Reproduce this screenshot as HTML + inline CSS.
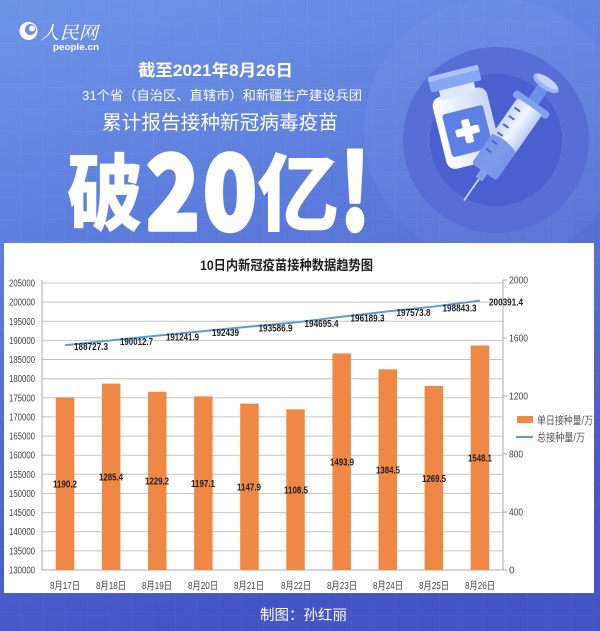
<!DOCTYPE html>
<html><head><meta charset="utf-8">
<style>
html,body{margin:0;padding:0;background:#5b73d8;}
svg{display:block;}
.cjk{font-family:"Liberation Sans","Noto Sans CJK SC",sans-serif;}
</style></head>
<body>
<svg width="600" height="631" viewBox="0 0 600 631" xmlns="http://www.w3.org/2000/svg">
<defs>
<linearGradient id="bg" x1="0" y1="0" x2="0.25" y2="1">
<stop offset="0" stop-color="#6e94e7"/>
<stop offset="0.38" stop-color="#5d7ddd"/>
<stop offset="1" stop-color="#4655c6"/>
</linearGradient>
<pattern id="grid" width="22" height="22" patternUnits="userSpaceOnUse">
<path d="M22 0V22M0 22H22" stroke="rgba(255,255,255,0.06)" stroke-width="1" fill="none"/>
</pattern>
<linearGradient id="vial" x1="0" y1="0" x2="1" y2="0">
<stop offset="0" stop-color="#ffffff"/><stop offset="1" stop-color="#c9d6f7"/>
</linearGradient>
<linearGradient id="barrel" x1="0" y1="0" x2="1" y2="0">
<stop offset="0" stop-color="#c7d6fb"/><stop offset="0.5" stop-color="#f2f6ff"/><stop offset="1" stop-color="#b9cbf7"/>
</linearGradient>
</defs>
<rect width="600" height="631" fill="url(#bg)"/>
<rect width="600" height="631" fill="url(#grid)"/>

<!-- circles -->
<circle cx="496" cy="130" r="132" fill="rgba(255,255,255,0.04)"/>
<circle cx="496" cy="140" r="93" fill="#566ed6"/>
<circle cx="496" cy="140" r="66" fill="#4a60cf"/>

<!-- vial -->
<g transform="rotate(-14 462 117)">
<rect x="436" y="92" width="56" height="74" rx="9" fill="url(#vial)"/>
<rect x="446" y="84" width="36" height="12" fill="#dfe7fb"/>
<rect x="438" y="70" width="52" height="16" rx="2" fill="#86a8f2"/>
<rect x="438" y="70" width="52" height="5" rx="2" fill="#a9c2f7"/>
<rect x="443" y="110" width="42" height="44" rx="3" fill="#5c80e3"/>
<rect x="460" y="120" width="8" height="24" rx="2" fill="#ffffff"/>
<rect x="452" y="128" width="24" height="8" rx="2" fill="#ffffff"/>
</g>

<!-- syringe -->
<g transform="translate(507 139) rotate(35)">
<line x1="0" y1="48" x2="0" y2="75" stroke="#d5e0ff" stroke-width="1.6"/>
<rect x="-4" y="38" width="8" height="11" fill="#7ea2ee"/>
<rect x="-6" y="-66" width="12" height="26" fill="#6b91ea"/>
<ellipse cx="0" cy="-68" rx="15" ry="6" fill="#9ab8f5"/>
<ellipse cx="0" cy="-70" rx="13" ry="4" fill="#c4d5fb"/>
<rect x="-21" y="-46" width="42" height="8" rx="3" fill="#7ea2ee"/>
<rect x="-15" y="-40" width="30" height="80" rx="3" fill="url(#barrel)"/>
<path d="M-15 4 Q0 0 15 6 V37 Q15 40 12 40 H-12 Q-15 40 -15 37 Z" fill="#6a8be6" opacity="0.85"/>
<g stroke="#4b66d4" stroke-width="2" stroke-linecap="round">
<line x1="-11" y1="-30" x2="-6" y2="-30"/><line x1="-11" y1="-20" x2="-6" y2="-20"/>
<line x1="-11" y1="-10" x2="-6" y2="-10"/><line x1="-11" y1="0" x2="-6" y2="0"/>
<line x1="-11" y1="10" x2="-6" y2="10"/><line x1="-11" y1="20" x2="-6" y2="20"/>
</g>
</g>

<!-- logo -->
<circle cx="28.5" cy="31" r="9" fill="#ffffff"/>
<circle cx="30.5" cy="29.5" r="5.5" fill="#6a8fe4"/>
<circle cx="32" cy="28.5" r="3" fill="#ffffff"/>
<text x="40" y="39" font-family="'Noto Serif CJK SC',serif" font-size="18" font-style="italic" fill="#ffffff" textLength="58" lengthAdjust="spacingAndGlyphs">人民网</text>
<text x="53" y="50" font-family="'Liberation Sans',sans-serif" font-size="9" font-weight="bold" fill="#ffffff" textLength="46" lengthAdjust="spacingAndGlyphs">people.cn</text>

<!-- headings -->
<text class="cjk" x="138" y="76" font-size="16.5" font-weight="bold" fill="#ffffff" textLength="155" lengthAdjust="spacingAndGlyphs">截至2021年8月26日</text>
<text class="cjk" x="82" y="100" font-size="13" fill="#ffffff" textLength="280" lengthAdjust="spacingAndGlyphs">31个省（自治区、直辖市）和新疆生产建设兵团</text>
<text class="cjk" x="102" y="129" font-size="19.5" fill="#ffffff" textLength="236" lengthAdjust="spacingAndGlyphs">累计报告接种新冠病毒疫苗</text>

<g font-family="'Noto Sans CJK SC',sans-serif" font-weight="900" fill="#ffffff">
<text x="67" y="224" font-size="84" textLength="76" lengthAdjust="spacingAndGlyphs">破</text>
<text x="146" y="230" font-size="104" textLength="54" lengthAdjust="spacingAndGlyphs" stroke="#ffffff" stroke-width="3.5" stroke-linejoin="round">2</text>
<text x="203" y="230" font-size="104" textLength="54" lengthAdjust="spacingAndGlyphs" stroke="#ffffff" stroke-width="3.5" stroke-linejoin="round">0</text>
<text x="257" y="224" font-size="84" textLength="82" lengthAdjust="spacingAndGlyphs">亿</text>
<text x="340" y="230" font-size="104" textLength="30" lengthAdjust="spacingAndGlyphs" stroke="#ffffff" stroke-width="3.5" stroke-linejoin="round">!</text>
</g>

<!-- chart panel -->
<rect x="4" y="243" width="590" height="350" fill="#ffffff"/>
<text class="cjk" x="200" y="270" font-size="13.5" font-weight="bold" fill="#1f1f1f" textLength="173" lengthAdjust="spacingAndGlyphs">10日内新冠疫苗接种数据趋势图</text>

<!-- gridlines -->
<g stroke="#c4c4c4" stroke-width="1">
<line x1="42" y1="283" x2="503" y2="283"/>
<line x1="42" y1="302.1" x2="503" y2="302.1"/>
<line x1="42" y1="321.3" x2="503" y2="321.3"/>
<line x1="42" y1="340.4" x2="503" y2="340.4"/>
<line x1="42" y1="359.5" x2="503" y2="359.5"/>
<line x1="42" y1="378.7" x2="503" y2="378.7"/>
<line x1="42" y1="397.8" x2="503" y2="397.8"/>
<line x1="42" y1="416.9" x2="503" y2="416.9"/>
<line x1="42" y1="436.1" x2="503" y2="436.1"/>
<line x1="42" y1="455.2" x2="503" y2="455.2"/>
<line x1="42" y1="474.3" x2="503" y2="474.3"/>
<line x1="42" y1="493.5" x2="503" y2="493.5"/>
<line x1="42" y1="512.6" x2="503" y2="512.6"/>
<line x1="42" y1="531.7" x2="503" y2="531.7"/>
<line x1="42" y1="550.9" x2="503" y2="550.9"/>
</g>
<g stroke="#a8a8a8" stroke-width="1">
<line x1="42" y1="570" x2="503" y2="570"/>
<line x1="42" y1="280" x2="42" y2="570"/>
<line x1="503" y1="280" x2="503" y2="570"/>
<line x1="503" y1="280" x2="507" y2="280"/>
<line x1="503" y1="338" x2="507" y2="338"/>
<line x1="503" y1="396" x2="507" y2="396"/>
<line x1="503" y1="454" x2="507" y2="454"/>
<line x1="503" y1="512" x2="507" y2="512"/>
<line x1="503" y1="570" x2="507" y2="570"/>
</g>

<!-- left axis labels -->
<g font-family="'Liberation Sans',sans-serif" font-size="10" fill="#404040" text-anchor="end">
<text x="35" y="286.5" textLength="26" lengthAdjust="spacingAndGlyphs">205000</text>
<text x="35" y="305.6" textLength="26" lengthAdjust="spacingAndGlyphs">200000</text>
<text x="35" y="324.8" textLength="26" lengthAdjust="spacingAndGlyphs">195000</text>
<text x="35" y="343.9" textLength="26" lengthAdjust="spacingAndGlyphs">190000</text>
<text x="35" y="363" textLength="26" lengthAdjust="spacingAndGlyphs">185000</text>
<text x="35" y="382.2" textLength="26" lengthAdjust="spacingAndGlyphs">180000</text>
<text x="35" y="401.3" textLength="26" lengthAdjust="spacingAndGlyphs">175000</text>
<text x="35" y="420.4" textLength="26" lengthAdjust="spacingAndGlyphs">170000</text>
<text x="35" y="439.6" textLength="26" lengthAdjust="spacingAndGlyphs">165000</text>
<text x="35" y="458.7" textLength="26" lengthAdjust="spacingAndGlyphs">160000</text>
<text x="35" y="477.8" textLength="26" lengthAdjust="spacingAndGlyphs">155000</text>
<text x="35" y="497" textLength="26" lengthAdjust="spacingAndGlyphs">150000</text>
<text x="35" y="516.1" textLength="26" lengthAdjust="spacingAndGlyphs">145000</text>
<text x="35" y="535.2" textLength="26" lengthAdjust="spacingAndGlyphs">140000</text>
<text x="35" y="554.4" textLength="26" lengthAdjust="spacingAndGlyphs">135000</text>
<text x="35" y="573.5" textLength="26" lengthAdjust="spacingAndGlyphs">130000</text>
</g>
<!-- right axis labels -->
<g font-family="'Liberation Sans',sans-serif" font-size="10" fill="#404040">
<text x="509" y="283.5" textLength="19" lengthAdjust="spacingAndGlyphs">2000</text>
<text x="509" y="341.5" textLength="19" lengthAdjust="spacingAndGlyphs">1600</text>
<text x="509" y="399.5" textLength="19" lengthAdjust="spacingAndGlyphs">1200</text>
<text x="509" y="457.5" textLength="14" lengthAdjust="spacingAndGlyphs">800</text>
<text x="509" y="515.5" textLength="14" lengthAdjust="spacingAndGlyphs">400</text>
<text x="509" y="573.5">0</text>
</g>

<!-- bars -->
<g fill="#ef8844">
<rect x="55.8" y="397.4" width="18.5" height="172.6"/>
<rect x="101.9" y="383.6" width="18.5" height="186.4"/>
<rect x="148" y="391.8" width="18.5" height="178.2"/>
<rect x="194.1" y="396.4" width="18.5" height="173.6"/>
<rect x="240.2" y="403.6" width="18.5" height="166.4"/>
<rect x="286.3" y="409.3" width="18.5" height="160.7"/>
<rect x="332.4" y="353.4" width="18.5" height="216.6"/>
<rect x="378.5" y="369.3" width="18.5" height="200.7"/>
<rect x="424.6" y="385.9" width="18.5" height="184.1"/>
<rect x="470.7" y="345.5" width="18.5" height="224.5"/>
</g>

<!-- line -->
<polyline fill="none" stroke="#5b9bd5" stroke-width="2" points="65.05,345.27 111.15,340.35 157.25,335.65 203.35,331.07 249.45,326.67 295.55,322.43 341.65,316.71 387.75,311.42 433.85,306.56 479.95,300.64"/>

<!-- bar labels -->
<g font-family="'Liberation Sans',sans-serif" font-size="10.5" font-weight="bold" fill="#1e1e1e" text-anchor="middle">
<text x="65" y="487.5" textLength="24" lengthAdjust="spacingAndGlyphs">1190.2</text>
<text x="111" y="480.6" textLength="24" lengthAdjust="spacingAndGlyphs">1285.4</text>
<text x="157" y="484.7" textLength="24" lengthAdjust="spacingAndGlyphs">1229.2</text>
<text x="203" y="487" textLength="24" lengthAdjust="spacingAndGlyphs">1197.1</text>
<text x="249" y="490.6" textLength="24" lengthAdjust="spacingAndGlyphs">1147.9</text>
<text x="296" y="493.4" textLength="24" lengthAdjust="spacingAndGlyphs">1108.5</text>
<text x="342" y="465.5" textLength="24" lengthAdjust="spacingAndGlyphs">1493.9</text>
<text x="388" y="473.4" textLength="24" lengthAdjust="spacingAndGlyphs">1384.5</text>
<text x="434" y="481.8" textLength="24" lengthAdjust="spacingAndGlyphs">1269.5</text>
<text x="480" y="461.6" textLength="24" lengthAdjust="spacingAndGlyphs">1548.1</text>
</g>
<!-- line labels -->
<g font-family="'Liberation Sans',sans-serif" font-size="10.5" font-weight="bold" fill="#1e1e1e">
<text x="74" y="350" textLength="34" lengthAdjust="spacingAndGlyphs">188727.3</text>
<text x="120" y="345" textLength="33" lengthAdjust="spacingAndGlyphs">190012.7</text>
<text x="166" y="340.5" textLength="33" lengthAdjust="spacingAndGlyphs">191241.9</text>
<text x="212" y="336" textLength="27" lengthAdjust="spacingAndGlyphs">192439</text>
<text x="258.5" y="331.5" textLength="34" lengthAdjust="spacingAndGlyphs">193586.9</text>
<text x="304.5" y="327" textLength="34" lengthAdjust="spacingAndGlyphs">194695.4</text>
<text x="350.5" y="321.5" textLength="34" lengthAdjust="spacingAndGlyphs">196189.3</text>
<text x="396.5" y="316" textLength="34" lengthAdjust="spacingAndGlyphs">197573.8</text>
<text x="442.5" y="311.5" textLength="34" lengthAdjust="spacingAndGlyphs">198843.3</text>
<text x="489" y="305.5" textLength="34" lengthAdjust="spacingAndGlyphs">200391.4</text>
</g>

<!-- x labels -->
<g class="cjk" font-size="10.5" fill="#404040" text-anchor="middle">
<text x="65" y="589" textLength="30" lengthAdjust="spacingAndGlyphs">8月17日</text>
<text x="111" y="589" textLength="30" lengthAdjust="spacingAndGlyphs">8月18日</text>
<text x="157" y="589" textLength="30" lengthAdjust="spacingAndGlyphs">8月19日</text>
<text x="203" y="589" textLength="30" lengthAdjust="spacingAndGlyphs">8月20日</text>
<text x="249" y="589" textLength="30" lengthAdjust="spacingAndGlyphs">8月21日</text>
<text x="296" y="589" textLength="30" lengthAdjust="spacingAndGlyphs">8月22日</text>
<text x="342" y="589" textLength="30" lengthAdjust="spacingAndGlyphs">8月23日</text>
<text x="388" y="589" textLength="30" lengthAdjust="spacingAndGlyphs">8月24日</text>
<text x="434" y="589" textLength="30" lengthAdjust="spacingAndGlyphs">8月25日</text>
<text x="480" y="589" textLength="30" lengthAdjust="spacingAndGlyphs">8月26日</text>
</g>

<!-- legend -->
<rect x="517" y="416" width="16" height="7" fill="#ef8844"/>
<text class="cjk" x="537" y="424" font-size="11" fill="#555555" textLength="56" lengthAdjust="spacingAndGlyphs">单日接种量/万</text>
<line x1="516" y1="437" x2="533" y2="437" stroke="#5b9bd5" stroke-width="2"/>
<text class="cjk" x="537" y="441" font-size="11" fill="#555555" textLength="48" lengthAdjust="spacingAndGlyphs">总接种量/万</text>

<!-- credit -->
<text class="cjk" x="260" y="620" font-size="14.5" fill="#ffffff" textLength="87" lengthAdjust="spacingAndGlyphs">制图：孙红丽</text>
</svg>
</body></html>
